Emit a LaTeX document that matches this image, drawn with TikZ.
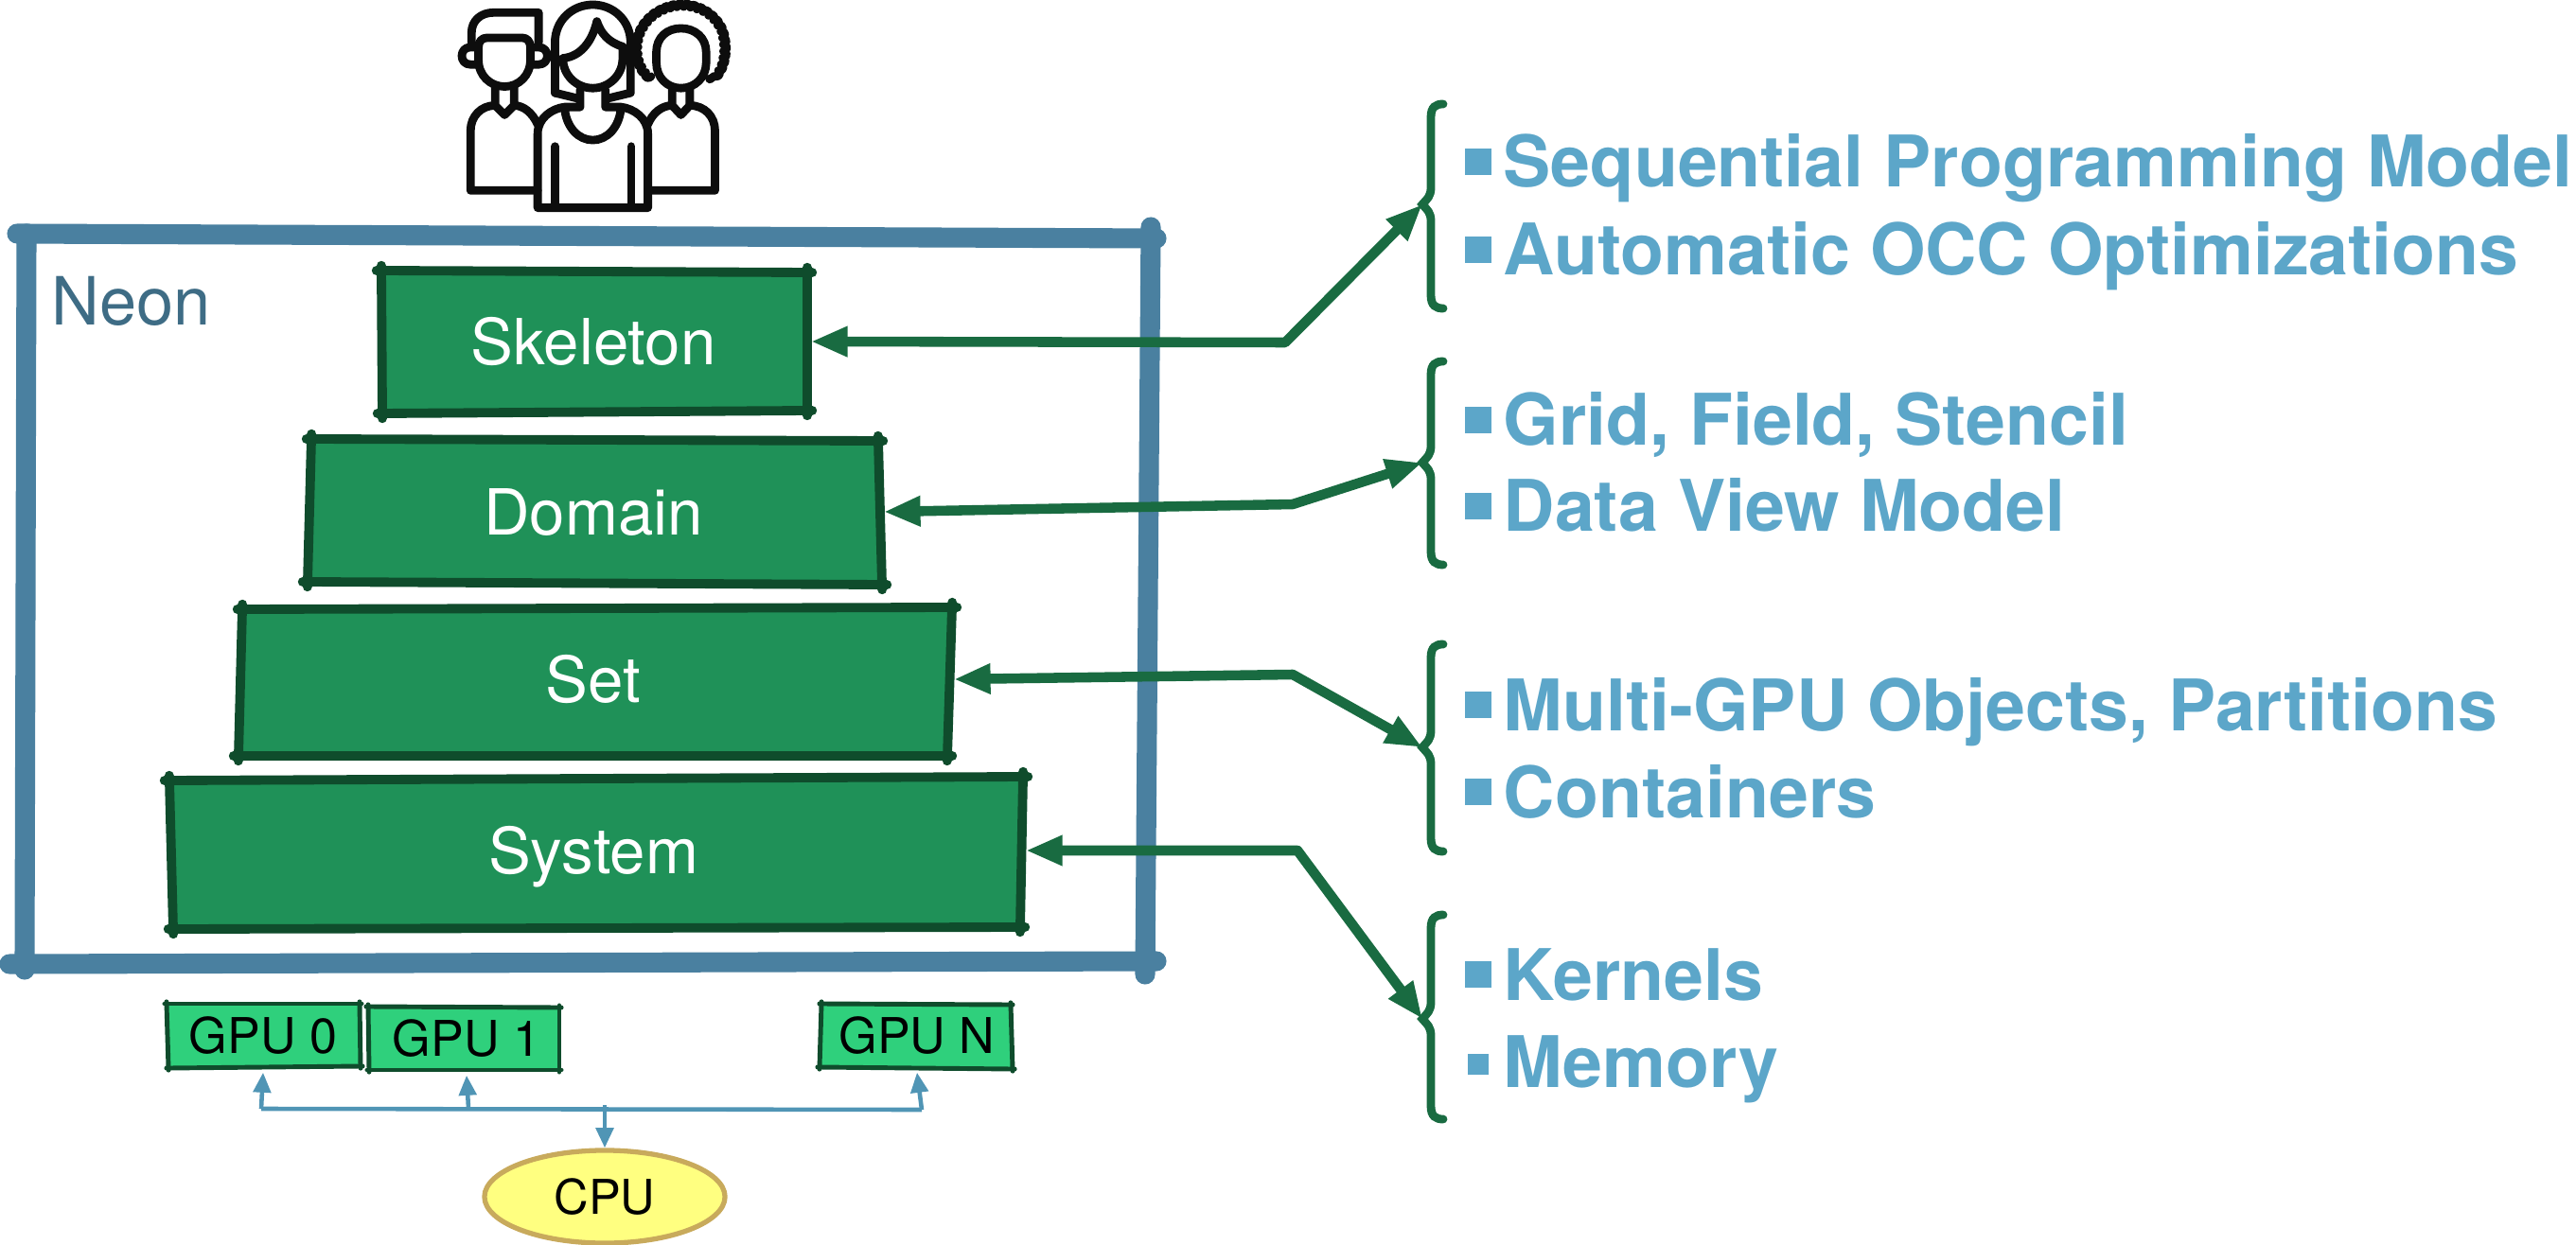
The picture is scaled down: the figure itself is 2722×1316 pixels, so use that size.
\documentclass[tikz,border=0pt]{standalone}
\usepackage{fontspec}
\setmainfont{TeX Gyre Heros}
\usetikzlibrary{arrows.meta,shapes.geometric,decorations.pathmorphing}

\definecolor{layergreen}{HTML}{1F9158}
\definecolor{layerdark}{HTML}{0F4C2C}
\definecolor{linkgreen}{HTML}{196B41}
\definecolor{gpugreen}{HTML}{2FD07C}
\definecolor{framesteel}{HTML}{4A80A0}
\definecolor{neonsteel}{HTML}{3E6C85}
\definecolor{itemblue}{HTML}{5CA6C9}
\definecolor{busblue}{HTML}{5095B5}
\definecolor{cpuyellow}{HTML}{FFFF80}
\definecolor{cpuline}{HTML}{C8AA5C}

\tikzset{
    frameline/.style={line width=6pt, color=framesteel, line cap=round},
    layeredge/.style={line width=2.8pt, color=layerdark, line cap=round, shorten <=-1.5pt, shorten >=-1.5pt},
    gpuedge/.style={line width=1.4pt, color=layerdark, line cap=round, shorten <=-.6pt, shorten >=-.6pt},
    layerlabel/.style={text=white, font=\fontsize{19.1}{21}\selectfont, inner sep=0pt, text height=13.8pt, text depth=0pt, minimum height=4cm},
    gpulabel/.style={text=black, font=\fontsize{14.8}{16}\selectfont, inner sep=0pt, minimum width=2cm, minimum height=.76cm},
    linkarrow/.style={line width=3pt, color=linkgreen, line cap=round, line join=round, {Triangle[length=11pt,width=8.5pt]}-{Triangle[length=11pt,width=8.5pt]}},
    busline/.style={line width=1.3pt, color=busblue},
    busarrow/.style={line width=1.3pt, color=busblue, -{Triangle[length=6pt,width=5.2pt]}},
    bracket/.style={line width=2.5pt, color=linkgreen, line cap=round},
    itemtext/.style={text=itemblue, font=\bfseries\fontsize{21.4}{24}\selectfont, anchor=base west, inner sep=0pt},
    itembullet/.style={fill=itemblue, inner sep=0pt, anchor=south, yshift=.12cm},
    cpunode/.style={ellipse, draw=cpuline, fill=cpuyellow, line width=1.5pt, inner sep=0pt, minimum width=2.54cm, minimum height=.98cm, font=\fontsize{14.4}{16}\selectfont},
    person/.style={line width=2.5pt, color=black!95, line cap=round, line join=round},
}

% four corners of a hand drawn box, fill colour, edge style
\newcommand{\sketchbox}[6]{
    \fill[#5] #1 -- #2 -- #3 -- #4 -- cycle;
    \draw[#6] #1 -- #2;
    \draw[#6] #2 -- #3;
    \draw[#6] #3 -- #4;
    \draw[#6] #4 -- #1;
}

\begin{document}
\begin{tikzpicture}[x=.01cm, y=-.01cm]
    \useasboundingbox (0,0) rectangle (2722,1316);

    % people
    \begin{scope}[shift={(440,0)}, x=.003333cm, y=-.003333cm, person]
        \draw (175,135) -- (175,105) .. controls (175,65) and (205,40) .. (245,40) -- (388,40) -- (388,135);
        \draw (197,150) .. controls (197,132) and (208,120) .. (225,120) -- (335,120) .. controls (352,120) and (362,132) .. (362,150) -- (362,190) .. controls (362,240) and (325,275) .. (280,275) .. controls (235,275) and (197,240) .. (197,190) -- cycle;
        \draw (197,150) -- (172,150) .. controls (135,150) and (135,205) .. (172,205) -- (197,205);
        \draw (362,150) -- (388,150) .. controls (425,150) and (425,205) .. (388,205) -- (362,205);
        \draw (250,275) -- (250,335) -- (280,365) -- (310,335) -- (310,275);
        \draw (385,395) .. controls (368,358) and (340,335) .. (310,335);
        \draw (250,335) .. controls (205,335) and (172,370) .. (172,415) -- (172,605) -- (385,605);

        \draw (440,295) -- (440,135) .. controls (440,65) and (495,15) .. (560,15) .. controls (625,15) and (680,65) .. (680,135) -- (680,295) -- (610,312);
        \draw (440,295) -- (510,312);
        \draw (465,185) .. controls (525,180) and (560,125) .. (573,68) .. controls (585,105) and (610,135) .. (655,148) -- (655,185) .. controls (655,240) and (610,280) .. (560,280) .. controls (510,280) and (465,240) .. (465,185);
        \draw (520,285) -- (520,340) -- (470,340) .. controls (475,405) and (515,445) .. (560,445) .. controls (605,445) and (645,405) .. (650,340) -- (600,340) -- (600,285);
        \draw (470,340) .. controls (430,345) and (385,375) .. (385,425) -- (385,660) -- (735,660) -- (735,425) .. controls (735,375) and (690,345) .. (650,340);
        \draw (440,465) -- (440,655);
        \draw (682,465) -- (682,655);

        \draw (762,200) -- (762,165) .. controls (762,120) and (795,90) .. (840,90) .. controls (885,90) and (920,120) .. (920,165) -- (920,200) .. controls (920,245) and (885,280) .. (840,280) .. controls (795,280) and (762,245) .. (762,200);
        \draw[decorate, decoration={bumps, segment length=4pt, amplitude=1.1pt}] (745,243) .. controls (690,200) and (690,100) .. (760,50) .. controls (830,0) and (930,20) .. (965,100) .. controls (985,160) and (970,230) .. (930,250);
        \draw (812,280) -- (812,335) -- (840,365) -- (868,335) -- (868,280);
        \draw (735,395) .. controls (750,358) and (780,335) .. (812,335);
        \draw (868,335) .. controls (915,335) and (948,370) .. (948,415) -- (948,605) -- (745,605);
    \end{scope}

    % neon frame
    \draw[frameline] (18,247) -- (1222,252);
    \draw[frameline] (28,247) -- (26,1025);
    \draw[frameline] (10,1019) -- (1222,1016);
    \draw[frameline] (1216,240) -- (1210,1030);
    \node[text=neonsteel, font=\fontsize{20}{22}\selectfont, inner sep=0pt, anchor=base west] (neon) at (54,344) {Neon};

    % layers
    \sketchbox{(403,286)}{(853,288)}{(853,434)}{(404,437)}{layergreen}{layeredge}
    \sketchbox{(329,464)}{(928,466)}{(932,618)}{(325,615)}{layergreen}{layeredge}
    \sketchbox{(256,644)}{(1006,642)}{(1001,799)}{(252,799)}{layergreen}{layeredge}
    \sketchbox{(179,825)}{(1081,821)}{(1078,980)}{(183,982)}{layergreen}{layeredge}
    \node[layerlabel, minimum width=4.58cm] (skeleton) at (627,361) {Skeleton};
    \node[layerlabel, minimum width=6.12cm] (domain) at (627,541) {Domain};
    \node[layerlabel, minimum width=7.6cm] (set) at (627,718) {Set};
    \node[layerlabel, minimum width=9.12cm] (system) at (627,899) {System};

    % gpus and cpu
    \sketchbox{(176,1061)}{(380,1061)}{(381,1127)}{(178,1129)}{gpugreen}{gpuedge}
    \sketchbox{(389,1064)}{(591,1065)}{(591,1131)}{(390,1131)}{gpugreen}{gpuedge}
    \sketchbox{(868,1061)}{(1068,1062)}{(1070,1130)}{(866,1128)}{gpugreen}{gpuedge}
    \node[gpulabel] (gpu0) at (278,1095) {GPU 0};
    \node[gpulabel] (gpu1) at (493,1098) {GPU 1};
    \node[gpulabel] (gpuN) at (969,1095) {GPU N};
    \node[cpunode] (cpu) at (639,1265) {CPU};

    \coordinate (bus0) at (276,1172);
    \coordinate (bus1) at (495,1171);
    \coordinate (busN) at (974,1173);
    \coordinate (busC) at (639,1168);
    \draw[busline] (bus0) -- (busN);
    \draw[busarrow] (bus0) -- (gpu0.south);
    \draw[busarrow] (bus1) -- (gpu1.south);
    \draw[busarrow] (busN) -- (gpuN.south);
    \draw[busarrow] (busC) -- (cpu.north);

    % braces
    \foreach \nm/\t/\m/\b in {a/110/216/326, b/382/489/597, c/681/790/900, d/967/1077/1183}{
        \draw[bracket] (1525,\t) .. controls (1517,\t) and (1512,\t+3) .. (1512,\t+14) -- (1512,\m-18) .. controls (1512,\m-8) and (1508,\m-6) .. (1503,\m) .. controls (1508,\m+6) and (1512,\m+8) .. (1512,\m+18) -- (1512,\b-14) .. controls (1512,\b-3) and (1517,\b) .. (1525,\b);
        \coordinate (brace\nm) at (1503,\m);
    }

    % links
    \coordinate (kneea) at (1358,362);
    \coordinate (kneeb) at (1366,533);
    \coordinate (kneec) at (1366,713);
    \coordinate (kneed) at (1371,899);
    \draw[linkarrow] (skeleton.east) -- (kneea) -- (bracea);
    \draw[linkarrow] (domain.east) -- (kneeb) -- (braceb);
    \draw[linkarrow] (set.east) -- (kneec) -- (bracec);
    \draw[linkarrow] (system.east) -- (kneed) -- (braced);

    % items
    \foreach \nm/\y/\s/\txt in {a/198/.28/Sequential Programming Model, b/291/.28/Automatic OCC Optimizations, c/471/.28/{Grid, Field, Stencil}, d/562/.28/Data View Model, e/772/.28/{Multi-GPU Objects, Partitions}, f/864/.28/Containers, g/1057/.28/Kernels, h/1149/.22/Memory}{
        \node[itembullet, minimum size=\s cm] (bullet\nm) at (1562,\y) {};
        \node[itemtext] (item\nm) at (1588,\y) {\txt};
    }
\end{tikzpicture}
\end{document}
